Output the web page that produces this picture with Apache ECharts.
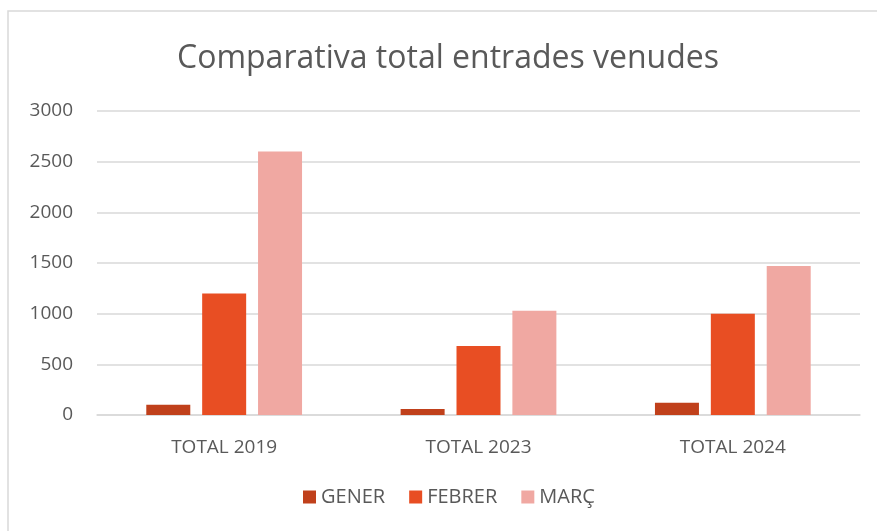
<!DOCTYPE html>
<html>
<head>
<meta charset="utf-8">
<script src="https://cdn.jsdelivr.net/npm/echarts@6/dist/echarts.min.js"></script>
<style>
  html, body { margin: 0; padding: 0; background: #fff; }
  #chart { width: 877px; height: 531px; }
</style>
</head>
<body>
<div id="chart"></div>
<script>
const categories = ['TOTAL 2019', 'TOTAL 2023', 'TOTAL 2024']
const gener = [100, 60, 120]
const febrer = [1200, 680, 1000]
const marc = [2600, 1030, 1470]
const seriesNames = ['GENER', 'FEBRER', 'MARÇ']
const colors = ['#c0401b', '#e84e23', '#f0a8a2']

const font = 'Open Sans'
const chart = echarts.init(document.getElementById('chart'))

const bar = (name, data, i) => ({
  name: name,
  type: 'bar',
  data: data,
  barWidth: 44,
  barGap: '27%',
  itemStyle: {color: colors[i]}
})

chart.setOption({
  animation: false,
  textStyle: {fontFamily: font},
  graphic: [{
    type: 'rect',
    shape: {x: 8, y: 11, width: 900, height: 600},
    style: {fill: 'none', stroke: '#d9d9d9', lineWidth: 1.5},
    silent: true
  }],
  title: {
    text: 'Comparativa total entrades venudes',
    left: 172,
    top: 38,
    textStyle: {fontFamily: font, fontSize: 32, fontWeight: 'normal', color: '#595959'}
  },
  legend: {
    bottom: 19,
    left: 298,
    itemWidth: 13,
    itemHeight: 13,
    itemGap: 24,
    icon: 'rect',
    textStyle: {fontFamily: font, fontSize: 20, color: '#595959'},
    data: seriesNames
  },
  grid: {left: 97, right: 17, top: 111, bottom: 116, containLabel: false},
  xAxis: {
    type: 'category',
    data: categories,
    axisLine: {lineStyle: {color: '#d9d9d9', width: 1.5}},
    axisTick: {show: false},
    axisLabel: {fontFamily: font, fontSize: 19, color: '#595959', margin: 23}
  },
  yAxis: {
    type: 'value',
    min: 0,
    max: 3000,
    interval: 500,
    axisLine: {show: false},
    axisTick: {show: false},
    splitLine: {lineStyle: {color: '#d9d9d9', width: 1.5}},
    axisLabel: {fontFamily: font, fontSize: 19, color: '#595959', margin: 24, formatter: v => String(v)}
  },
  series: [
    bar(seriesNames[0], gener, 0),
    bar(seriesNames[1], febrer, 1),
    bar(seriesNames[2], marc, 2)
  ]
})
</script>
</body>
</html>
